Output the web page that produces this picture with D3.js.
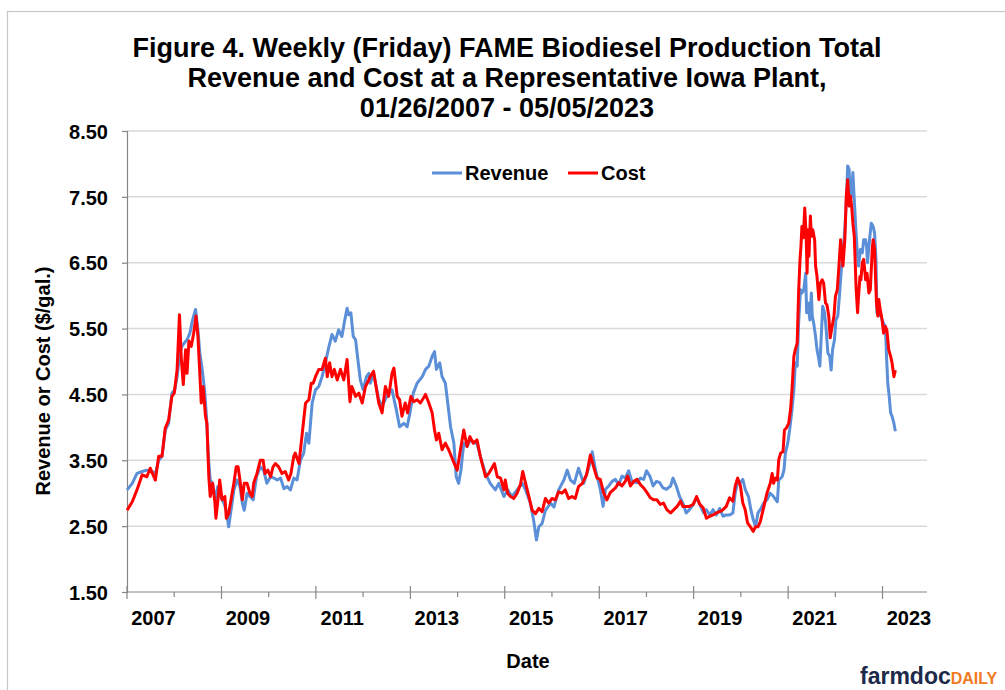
<!DOCTYPE html>
<html>
<head>
<meta charset="utf-8">
<script src="https://cdn.jsdelivr.net/npm/d3@7"></script>
<style>
  html, body { margin: 0; padding: 0; background: #fff; }
  svg text { font-family: "Liberation Sans", Arial, sans-serif; font-weight: bold; fill: #000; }
</style>
</head>
<body>
<div id="chart"></div>
<script>
// Weekly revenue and cost ($/gal.) as (decimal year, value)
const revenueYears = [
  2007.07, 2007.18, 2007.28, 2007.39, 2007.49, 2007.60, 2007.67, 2007.74, 2007.81, 2007.88, 2007.95,
  2008.02, 2008.08, 2008.13, 2008.19, 2008.23, 2008.28, 2008.34, 2008.40, 2008.45, 2008.50, 2008.52,
  2008.57, 2008.61, 2008.66, 2008.71, 2008.75, 2008.79, 2008.83, 2008.88, 2008.94, 2008.99,
  2009.05, 2009.12, 2009.17, 2009.22, 2009.27, 2009.33, 2009.40, 2009.46, 2009.51, 2009.55, 2009.61,
  2009.67, 2009.74, 2009.81, 2009.89, 2009.96,
  2010.03, 2010.11, 2010.18, 2010.25, 2010.32, 2010.39, 2010.46, 2010.53, 2010.60, 2010.67, 2010.74,
  2010.81, 2010.87, 2010.92, 2010.99,
  2011.06, 2011.13, 2011.20, 2011.27, 2011.34, 2011.41, 2011.48, 2011.55, 2011.62, 2011.67, 2011.73,
  2011.76, 2011.81, 2011.86, 2011.91, 2011.95,
  2012.01, 2012.07, 2012.14, 2012.19, 2012.22, 2012.29, 2012.40, 2012.47, 2012.58, 2012.68, 2012.77,
  2012.84, 2012.93,
  2013.00, 2013.06, 2013.13, 2013.21, 2013.32, 2013.39, 2013.46, 2013.53, 2013.58, 2013.62, 2013.69,
  2013.74, 2013.81, 2013.86, 2013.92, 2013.99,
  2014.04, 2014.09, 2014.14, 2014.20, 2014.27, 2014.34, 2014.43, 2014.48, 2014.55, 2014.66, 2014.76,
  2014.87, 2014.94,
  2015.05, 2015.13, 2015.22, 2015.33, 2015.44, 2015.51, 2015.61, 2015.68, 2015.74, 2015.79, 2015.86,
  2015.93,
  2016.04, 2016.11, 2016.21, 2016.32, 2016.39, 2016.46, 2016.54, 2016.63, 2016.74, 2016.85, 2016.92,
  2016.99,
  2017.09, 2017.15, 2017.20, 2017.27, 2017.34, 2017.41, 2017.48, 2017.55, 2017.62, 2017.69, 2017.76,
  2017.87, 2017.94,
  2018.01, 2018.07, 2018.14, 2018.21, 2018.28, 2018.35, 2018.42, 2018.49, 2018.58, 2018.63, 2018.70,
  2018.77, 2018.84, 2018.91, 2018.98,
  2019.06, 2019.13, 2019.20, 2019.28, 2019.34, 2019.41, 2019.48, 2019.55, 2019.62, 2019.69, 2019.76,
  2019.83, 2019.90, 2019.95,
  2020.00, 2020.06, 2020.11, 2020.16, 2020.23, 2020.28, 2020.33, 2020.38, 2020.43, 2020.48, 2020.55,
  2020.62, 2020.69, 2020.76, 2020.84, 2020.87, 2020.94, 2020.98,
  2021.01, 2021.06, 2021.10, 2021.15, 2021.19, 2021.22, 2021.26, 2021.29, 2021.33, 2021.36, 2021.40,
  2021.44, 2021.46, 2021.49, 2021.53, 2021.56, 2021.58, 2021.61, 2021.65, 2021.68, 2021.72, 2021.74,
  2021.77, 2021.80, 2021.84, 2021.87, 2021.91, 2021.95, 2021.98,
  2022.01, 2022.05, 2022.08, 2022.12, 2022.16, 2022.20, 2022.23, 2022.27, 2022.30, 2022.33, 2022.36,
  2022.39, 2022.42, 2022.44, 2022.47, 2022.50, 2022.53, 2022.56, 2022.60, 2022.64, 2022.67, 2022.71,
  2022.73, 2022.75, 2022.80, 2022.83, 2022.87, 2022.90, 2022.93, 2022.95, 2022.99,
  2023.02, 2023.06, 2023.09, 2023.13, 2023.15, 2023.18, 2023.21, 2023.24, 2023.27, 2023.31, 2023.34
];
const revenueValues = [
  3.05, 3.15, 3.30, 3.33, 3.35, 3.33, 3.30, 3.50, 3.56, 3.96, 4.06,
  4.52, 4.57, 4.77, 5.13, 5.23, 5.28, 5.33, 5.43, 5.61, 5.74, 5.79,
  5.48, 5.13, 4.88, 4.57, 4.17, 3.56, 3.20, 3.15, 2.90, 3.10,
  2.95, 2.85, 2.74, 2.49, 2.74, 3.05, 3.20, 3.10, 2.85, 2.74, 3.00,
  2.95, 2.90, 3.25, 3.40, 3.35,
  3.15, 3.25, 3.23, 3.20, 3.23, 3.07, 3.10, 3.05, 3.23, 3.20, 3.50,
  3.61, 3.91, 3.76, 4.37,
  4.57, 4.62, 4.77, 4.98, 5.21, 5.41, 5.31, 5.48, 5.38, 5.59, 5.81,
  5.71, 5.74, 5.38, 5.33, 5.08,
  4.72, 4.57, 4.77, 4.82, 4.67, 4.82, 4.42, 4.32, 4.49, 4.57, 4.27,
  4.01, 4.06,
  4.01, 4.22, 4.52, 4.67, 4.77, 4.88, 4.93, 5.08, 5.15, 4.88, 4.98,
  4.77, 4.67, 4.37, 4.01, 3.76,
  3.25, 3.15, 3.35, 3.76, 3.71, 3.81, 3.76, 3.76, 3.56, 3.30, 3.15,
  3.05, 3.15,
  2.95, 3.05, 2.95, 3.05, 3.15, 3.05, 2.85, 2.59, 2.29, 2.49, 2.54,
  2.74,
  2.85, 2.79, 3.05, 3.20, 3.35, 3.20, 3.15, 3.38, 3.15, 3.40, 3.63,
  3.35,
  3.06, 2.80, 3.06, 3.11, 3.18, 3.21, 3.13, 3.26, 3.23, 3.34, 3.18,
  3.16, 3.23,
  3.21, 3.34, 3.26, 3.11, 3.18, 3.16, 3.08, 3.06, 3.11, 3.23, 3.11,
  2.95, 2.85, 2.70, 2.75,
  2.83, 2.93, 2.83, 2.70, 2.75, 2.67, 2.75, 2.67, 2.77, 2.65, 2.67,
  2.67, 2.70, 3.01,
  3.16, 3.16, 3.21, 3.06, 2.95, 2.75, 2.60, 2.49, 2.70, 2.75, 2.85,
  2.90, 3.00, 2.95, 2.87, 3.20, 3.25, 3.35,
  3.61, 3.76, 3.96, 4.27, 4.57, 4.98, 4.93, 5.58, 6.09, 6.04, 6.09,
  6.34, 5.74, 5.89, 5.63, 6.04, 5.69, 5.58, 5.38, 5.18, 5.03, 4.93,
  5.38, 5.84, 5.74, 5.53, 5.13, 5.08, 4.87,
  5.18, 5.33, 5.63, 5.69, 6.04, 6.45, 6.65, 7.00, 7.41, 7.97, 7.92,
  7.46, 7.56, 7.87, 7.46, 7.05, 6.70, 6.45, 6.70, 6.65, 6.85, 6.85,
  6.75, 6.50, 6.90, 7.10, 7.05, 6.95, 6.55, 5.74, 5.70,
  5.74, 5.63, 5.58, 5.53, 5.13, 4.67, 4.47, 4.22, 4.17, 4.06, 3.94
];

const costYears = [
  2007.07, 2007.18, 2007.28, 2007.39, 2007.49, 2007.56, 2007.67, 2007.74, 2007.81, 2007.88, 2007.95,
  2008.02, 2008.07, 2008.13, 2008.18, 2008.22, 2008.26, 2008.31, 2008.34, 2008.38, 2008.43, 2008.48,
  2008.53, 2008.57, 2008.61, 2008.64, 2008.68, 2008.73, 2008.76, 2008.80, 2008.83, 2008.88, 2008.93,
  2008.95,
  2009.00, 2009.03, 2009.08, 2009.14, 2009.17, 2009.22, 2009.27, 2009.33, 2009.38, 2009.42, 2009.46,
  2009.51, 2009.55, 2009.61, 2009.67, 2009.72, 2009.75, 2009.82, 2009.89, 2009.95, 2009.99,
  2010.05, 2010.11, 2010.16, 2010.21, 2010.28, 2010.35, 2010.42, 2010.49, 2010.54, 2010.60, 2010.63,
  2010.71, 2010.78, 2010.85, 2010.92, 2010.97,
  2011.01, 2011.06, 2011.13, 2011.20, 2011.27, 2011.31, 2011.36, 2011.41, 2011.46, 2011.52, 2011.59,
  2011.66, 2011.73, 2011.79, 2011.83, 2011.91, 2011.98,
  2012.05, 2012.12, 2012.19, 2012.22, 2012.29, 2012.40, 2012.47, 2012.54, 2012.61, 2012.68, 2012.72,
  2012.79, 2012.84, 2012.89, 2012.96,
  2013.01, 2013.08, 2013.14, 2013.21, 2013.28, 2013.35, 2013.39, 2013.46, 2013.53, 2013.58, 2013.62,
  2013.67, 2013.74, 2013.81, 2013.88, 2013.97,
  2014.06, 2014.13, 2014.20, 2014.27, 2014.33, 2014.40, 2014.48, 2014.55, 2014.66, 2014.73, 2014.85,
  2014.91, 2014.98,
  2015.05, 2015.08, 2015.13, 2015.19, 2015.26, 2015.33, 2015.40, 2015.45, 2015.51, 2015.58, 2015.65,
  2015.72, 2015.79, 2015.86, 2015.93,
  2016.00, 2016.07, 2016.14, 2016.21, 2016.28, 2016.35, 2016.42, 2016.49, 2016.56, 2016.63, 2016.71,
  2016.80, 2016.88, 2016.95,
  2017.02, 2017.09, 2017.16, 2017.23, 2017.30, 2017.41, 2017.48, 2017.55, 2017.62, 2017.67, 2017.73,
  2017.80, 2017.87, 2017.94,
  2018.01, 2018.08, 2018.15, 2018.22, 2018.29, 2018.36, 2018.43, 2018.50, 2018.58, 2018.65, 2018.72,
  2018.79, 2018.84, 2018.91, 2018.98,
  2019.06, 2019.13, 2019.20, 2019.27, 2019.34, 2019.41, 2019.48, 2019.55, 2019.62, 2019.69, 2019.76,
  2019.83, 2019.90, 2019.95,
  2020.00, 2020.06, 2020.11, 2020.16, 2020.21, 2020.27, 2020.33, 2020.38, 2020.43, 2020.48, 2020.54,
  2020.62, 2020.69, 2020.73, 2020.76, 2020.80, 2020.84, 2020.87, 2020.91, 2020.96, 2020.99,
  2021.03, 2021.08, 2021.12, 2021.15, 2021.19, 2021.22, 2021.26, 2021.29, 2021.32, 2021.34, 2021.36,
  2021.39, 2021.42, 2021.45, 2021.47, 2021.49, 2021.51, 2021.54, 2021.56, 2021.59, 2021.63, 2021.65,
  2021.68, 2021.72, 2021.75, 2021.79, 2021.82, 2021.86, 2021.89, 2021.93, 2021.96,
  2022.00, 2022.04, 2022.07, 2022.11, 2022.14, 2022.18, 2022.20, 2022.23, 2022.27, 2022.30, 2022.33,
  2022.36, 2022.39, 2022.42, 2022.44, 2022.47, 2022.49, 2022.51, 2022.54, 2022.56, 2022.59, 2022.61,
  2022.64, 2022.67, 2022.71, 2022.74, 2022.78, 2022.81, 2022.85, 2022.87, 2022.90, 2022.92, 2022.94,
  2022.97, 2022.99,
  2023.02, 2023.06, 2023.09, 2023.13, 2023.16, 2023.20, 2023.24, 2023.27, 2023.31, 2023.34
];
const costValues = [
  2.74, 2.87, 3.05, 3.28, 3.25, 3.38, 3.20, 3.56, 3.56, 3.99, 4.11,
  4.47, 4.52, 4.88, 5.71, 5.03, 4.65, 5.18, 4.82, 5.31, 5.23, 5.43,
  5.69, 5.38, 4.82, 4.37, 4.62, 4.17, 4.06, 3.25, 2.95, 3.15, 2.85,
  2.62,
  2.95, 3.20, 2.90, 2.95, 2.62, 2.69, 2.90, 3.15, 3.40, 3.40, 3.20,
  2.90, 3.15, 3.15, 3.00, 2.95, 3.15, 3.30, 3.50, 3.50, 3.30,
  3.35, 3.25, 3.40, 3.45, 3.40, 3.30, 3.33, 3.20, 3.30, 3.56, 3.61,
  3.45, 3.91, 4.37, 4.42, 4.67,
  4.67, 4.77, 4.88, 4.88, 5.05, 4.77, 4.98, 4.77, 4.88, 4.72, 4.88,
  4.72, 5.03, 4.39, 4.62, 4.47, 4.52,
  4.37, 4.62, 4.72, 4.77, 4.85, 4.37, 4.22, 4.62, 4.47, 4.82, 4.90,
  4.47, 4.42, 4.17, 4.37,
  4.22, 4.47, 4.39, 4.42, 4.37, 4.45, 4.50, 4.37, 4.22, 3.96, 3.81,
  3.91, 3.66, 3.76, 3.66, 3.50,
  3.35, 3.66, 3.96, 3.71, 3.86, 3.76, 3.81, 3.56, 3.25, 3.30, 3.45,
  3.25, 3.23,
  3.05, 3.20, 3.00, 2.95, 2.92, 3.00, 3.13, 3.33, 3.15, 2.95, 2.74,
  2.69, 2.77, 2.72, 2.92,
  2.85, 2.92, 2.90, 3.02, 3.00, 3.05, 2.92, 2.95, 2.92, 3.10, 3.15,
  3.28, 3.58, 3.40,
  3.23, 3.21, 3.01, 2.90, 3.01, 3.08, 3.16, 3.11, 3.18, 3.26, 3.11,
  3.18, 3.21, 3.13,
  3.08, 3.01, 2.93, 2.90, 2.90, 2.83, 2.85, 2.75, 2.70, 2.75, 2.80,
  2.88, 2.80, 2.80, 2.80,
  2.83, 2.95, 2.83, 2.78, 2.62, 2.65, 2.67, 2.70, 2.72, 2.75, 2.80,
  2.93, 2.88, 3.11,
  3.23, 3.11, 2.85, 2.75, 2.55, 2.49, 2.42, 2.49, 2.49, 2.57, 2.75,
  3.00, 3.15, 3.30, 3.15, 3.23, 3.20, 3.51, 3.61, 3.63, 3.96,
  3.99, 4.06, 4.27, 4.57, 5.08, 5.18, 5.28, 6.04, 6.55, 6.75, 7.05,
  6.88, 7.33, 6.90, 6.34, 7.00, 6.60, 7.21, 6.90, 7.00, 6.85, 6.45,
  6.29, 5.94, 6.19, 6.24, 6.19, 5.89, 5.86, 5.69, 5.36,
  5.53, 5.69, 5.99, 6.09, 6.40, 6.85, 6.70, 6.45, 6.85, 7.51, 7.76,
  7.36, 7.51, 7.31, 7.10, 6.90, 6.50, 6.09, 5.74, 5.99, 6.29, 6.24,
  6.50, 6.55, 6.24, 6.34, 6.04, 6.09, 6.70, 6.85, 6.70, 6.29, 5.89,
  5.69, 5.94,
  5.79, 5.63, 5.43, 5.53, 5.48, 5.18, 5.08, 4.98, 4.77, 4.87
];

// Axis settings
const yTicks = [1.5, 2.5, 3.5, 4.5, 5.5, 6.5, 7.5, 8.5];
const xTickYears = d3.range(2007, 2024);
const xLabelYears = [2007, 2009, 2011, 2013, 2015, 2017, 2019, 2021, 2023];
const titleLines = [
  'Figure 4. Weekly (Friday) FAME Biodiesel Production Total',
  'Revenue and Cost at a Representative Iowa Plant,',
  '01/26/2007 - 05/05/2023'
];

/*------------------------------------------------------*/

const width = 1005;
const height = 690;
const plot = { left: 127, right: 927, top: 131, bottom: 592 };

// Decimal year -> UTC date
function yearToDate(y) {
  const yr = Math.floor(y);
  const start = Date.UTC(yr, 0, 1);
  const end = Date.UTC(yr + 1, 0, 1);
  return new Date(start + (y - yr) * (end - start));
}

const svg = d3.select('#chart')
  .append('svg')
  .attr('width', width)
  .attr('height', height);

// Light frame round the chart area
svg.append('rect')
  .attr('x', 7.5).attr('y', 11.5)
  .attr('width', 1010).attr('height', 700)
  .attr('fill', 'none')
  .attr('stroke', '#c6c6c6')
  .attr('stroke-width', 1.2);

const x = d3.scaleUtc()
  .domain([new Date(Date.UTC(2007, 0, 26)), new Date(Date.UTC(2024, 0, 5))])
  .range([plot.left, plot.right]);

const y = d3.scaleLinear()
  .domain([1.5, 8.5])
  .range([plot.bottom, plot.top]);

// Gridlines
svg.append('g')
  .selectAll('line')
  .data(yTicks.slice(1))
  .enter().append('line')
  .attr('x1', plot.left).attr('x2', plot.right)
  .attr('y1', (d) => y(d)).attr('y2', (d) => y(d))
  .attr('stroke', '#d9d9d9')
  .attr('stroke-width', 1.5);

// Y axis
const yAxis = svg.append('g')
  .attr('transform', 'translate(' + plot.left + ',0)')
  .call(d3.axisLeft(y).tickValues(yTicks).tickFormat(d3.format('.2f')).tickSize(5).tickPadding(14));
yAxis.select('.domain').attr('stroke', '#868686').attr('stroke-width', 1.2);
yAxis.selectAll('.tick line').attr('stroke', '#868686').attr('stroke-width', 1.2);
yAxis.selectAll('.tick text')
  .style('font-size', '20px')
  .attr('dy', '0.36em');

// X axis line
svg.append('line')
  .attr('x1', plot.left).attr('x2', plot.right)
  .attr('y1', plot.bottom).attr('y2', plot.bottom)
  .attr('stroke', '#868686').attr('stroke-width', 1.2);

// Yearly ticks, the labelled (odd) years cross the axis
const tickDates = xTickYears.map((yr) => new Date(Date.UTC(yr, 0, 26)));
svg.append('g')
  .selectAll('line')
  .data(tickDates)
  .enter().append('line')
  .attr('x1', (d) => x(d)).attr('x2', (d) => x(d))
  .attr('y1', (d) => d.getUTCFullYear() % 2 ? plot.bottom - 6 : plot.bottom)
  .attr('y2', (d) => d.getUTCFullYear() % 2 ? plot.bottom + 7 : plot.bottom + 5)
  .attr('stroke', '#868686').attr('stroke-width', 1.2);

// Year labels sit in the middle of their year
svg.append('g')
  .selectAll('text')
  .data(xLabelYears)
  .enter().append('text')
  .attr('x', (d) => x(new Date(Date.UTC(d, 6, 26))) + 3)
  .attr('y', 625)
  .attr('text-anchor', 'middle')
  .style('font-size', '20px')
  .text((d) => d);

// Series lines
const line = d3.line()
  .x((d) => x(yearToDate(d[0])))
  .y((d) => y(d[1]))
  .curve(d3.curveLinear);

const revenue = d3.zip(revenueYears, revenueValues);
const cost = d3.zip(costYears, costValues);

svg.append('path')
  .datum(revenue)
  .attr('d', line)
  .attr('fill', 'none')
  .attr('stroke', '#5b8fd8')
  .attr('stroke-width', 3)
  .attr('stroke-linejoin', 'round');

svg.append('path')
  .datum(cost)
  .attr('d', line)
  .attr('fill', 'none')
  .attr('stroke', '#ff0000')
  .attr('stroke-width', 3)
  .attr('stroke-linejoin', 'round');

// Legend
const legend = [
  { name: 'Revenue', color: '#5b8fd8', x: 432 },
  { name: 'Cost', color: '#ff0000', x: 568 }
];
const lg = svg.append('g');
lg.selectAll('line')
  .data(legend)
  .enter().append('line')
  .attr('x1', (d) => d.x).attr('x2', (d) => d.x + 30)
  .attr('y1', 173).attr('y2', 173)
  .attr('stroke', (d) => d.color)
  .attr('stroke-width', 3);
lg.selectAll('text')
  .data(legend)
  .enter().append('text')
  .attr('x', (d) => d.x + 33)
  .attr('y', 180)
  .style('font-size', '20px')
  .text((d) => d.name);

// Title
svg.append('g')
  .selectAll('text')
  .data(titleLines)
  .enter().append('text')
  .attr('x', 507)
  .attr('y', (d, i) => 57 + i * 30)
  .attr('text-anchor', 'middle')
  .style('font-size', '27px')
  .text((d) => d);

// Axis titles
svg.append('text')
  .attr('x', 528).attr('y', 668)
  .attr('text-anchor', 'middle')
  .style('font-size', '20px')
  .text('Date');

svg.append('text')
  .attr('transform', 'translate(50,381) rotate(-90)')
  .attr('text-anchor', 'middle')
  .style('font-size', '20px')
  .text('Revenue or Cost ($/gal.)');

// farmdoc daily mark
const logo = svg.append('text')
  .attr('x', 860).attr('y', 684)
  .style('font-size', '23px');
logo.append('tspan').style('fill', '#1d2a4a').text('farmdoc');
logo.append('tspan').style('fill', '#f07a22').style('font-size', '16px').text('DAILY');
</script>
</body>
</html>
